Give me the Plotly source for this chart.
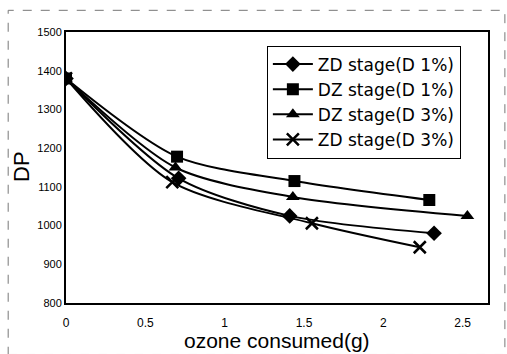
import plotly.graph_objects as go

series_names = ["ZD stage(D 1%)", "DZ stage(D 1%)", "DZ stage(D 3%)", "ZD stage(D 3%)"]
x_zd1 = [0, 0.71, 1.41, 2.32]
y_zd1 = [1380, 1122, 1025, 980]
x_dz1 = [0, 0.70, 1.44, 2.29]
y_dz1 = [1380, 1178, 1115, 1066]
x_dz3 = [0, 0.69, 1.43, 2.53]
y_dz3 = [1380, 1150, 1074, 1025]
x_zd3 = [0, 0.67, 1.55, 2.23]
y_zd3 = [1380, 1112, 1006, 944]
symbols = ["diamond", "square", "triangle-up", "x-thin"]
x_ticks = [0, 0.5, 1, 1.5, 2, 2.5]
x_tick_labels = ["0", "0.5", "1", "1.5", "2", "2.5"]
y_ticks = [800, 900, 1000, 1100, 1200, 1300, 1400, 1500]
x_title = "ozone consumed(g)"
y_title = "DP"

xs = [x_zd1, x_dz1, x_dz3, x_zd3]
ys = [y_zd1, y_dz1, y_dz3, y_zd3]

fig = go.Figure()
for name, x, y, sym in zip(series_names, xs, ys, symbols):
    fig.add_trace(go.Scatter(
        x=x, y=y, name=name, mode="lines+markers",
        line=dict(color="black", width=2, shape="spline", smoothing=0.8),
        marker=dict(symbol=sym, size=12, color="black",
                    line=dict(color="black", width=2.5 if sym == "x-thin" else 0)),
    ))

font = "Liberation Sans, Arial, sans-serif"
fig.update_layout(
    width=507, height=354,
    margin=dict(l=66, r=19, t=32, b=51, autoexpand=False),
    paper_bgcolor="white", plot_bgcolor="white",
    font=dict(family=font, color="black"),
    showlegend=True,
    legend=dict(x=0.476, y=0.95, xanchor="left", yanchor="top",
                bgcolor="white", bordercolor="black", borderwidth=1,
                font=dict(size=17, family="DejaVu Sans, sans-serif"), tracegroupgap=0,
                itemwidth=40, traceorder="normal"),
    xaxis=dict(range=[0, 2.66], tickvals=x_ticks, ticktext=x_tick_labels,
               showgrid=False, zeroline=False, showline=True, linecolor="black",
               linewidth=2, mirror=True, ticks="", tickfont=dict(size=12),
               ticklabelstandoff=8, automargin=False),
    yaxis=dict(range=[800, 1500], tickvals=y_ticks,
               showgrid=False, zeroline=False, showline=True, linecolor="black",
               linewidth=2, mirror=True, ticks="", tickfont=dict(size=11),
               automargin=False),
)
fig.add_annotation(text=x_title, xref="paper", yref="paper", x=0.5, y=-0.14,
                   xanchor="center", yanchor="middle", showarrow=False,
                   font=dict(size=21, family=font))
fig.add_annotation(text=y_title, xref="paper", yref="paper", x=-0.107, y=0.505,
                   xanchor="center", yanchor="middle", showarrow=False, textangle=-90,
                   font=dict(size=22, family=font))
fig.add_shape(type="rect", xref="paper", yref="paper", x0=-0.137, x1=1.04, y0=-0.19, y1=1.08,
              line=dict(color="#777", width=1, dash="dash"), layer="below")
fig.write_html("out.html")
